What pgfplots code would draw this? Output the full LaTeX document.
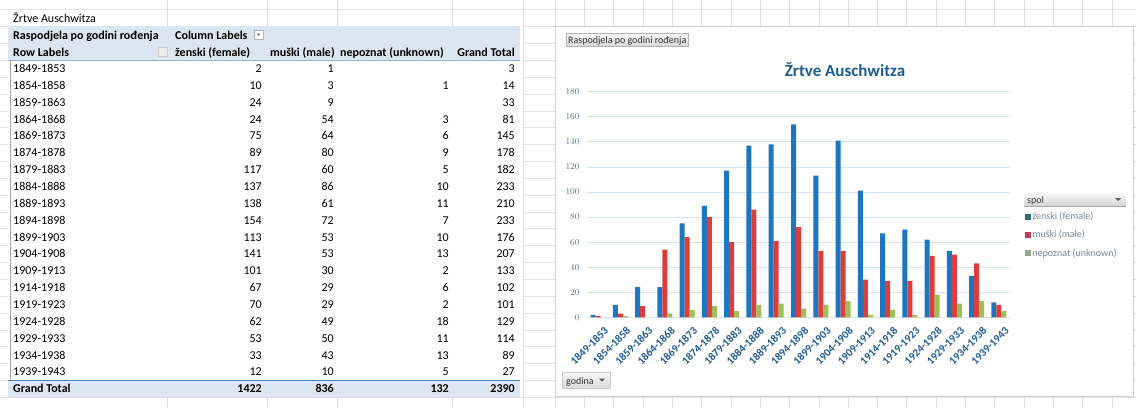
\documentclass[border=0pt]{standalone}
\usepackage{fontspec}
\setmainfont{Carlito}
\usepackage{pgfplots}
\pgfplotsset{compat=1.18}

\definecolor{zblue}{HTML}{1D77C0}
\definecolor{mred}{HTML}{DD3E3A}
\definecolor{ngreen}{HTML}{9CBF58}
\definecolor{sheetgrid}{HTML}{E0E0E0}
\definecolor{hdrfill}{HTML}{DCE6F1}
\definecolor{hdrline}{HTML}{95B3D7}
\definecolor{totline}{HTML}{4F81BD}
\definecolor{gridblue}{HTML}{D5E2F0}
\definecolor{ticktext}{HTML}{56708F}
\definecolor{xlabtext}{HTML}{1F5A96}
\definecolor{titleblue}{HTML}{1F5C94}
\definecolor{legtext}{HTML}{7A8796}
\definecolor{legteal}{HTML}{2D6E7E}
\definecolor{legred}{HTML}{C23E55}
\definecolor{leggreen}{HTML}{8FA98A}

\newcommand\tf{\fontsize{12}{14}\selectfont}

\begin{document}
\begin{tikzpicture}
\useasboundingbox (0,0) rectangle (1136pt,-408pt);

\begin{scope}[x=1pt,y=-1pt]
  \fill[white] (0,0) rectangle (1136,408);
  % sheet grid
  \foreach \j in {0,...,23} \draw[sheetgrid] (0,{9.6+16.85*\j}) -- (1136,{9.6+16.85*\j});
  \foreach \x in {167,267,337,452,523} \draw[sheetgrid] (\x,0) -- (\x,408);
  \foreach \j in {0,...,19} \draw[sheetgrid] ({555+29.3*\j},0) -- ({555+29.3*\j},408);

  % pivot table
  \fill[white] (8,26.45) rectangle (523,397.2);
  \fill[hdrfill] (8,26.45) rectangle (520,60.15);
  \draw[hdrline] (8,60.15) -- (520,60.15);
  \fill[hdrfill] (8,380.3) rectangle (520,397.2);
  \draw[totline, line width=0.8pt] (8,380.3) -- (520,380.3);
  \draw[gray!70] (10,60.15) -- (10,380.3);

  \node[anchor=base west, font=\tf, inner sep=0pt] at (13,22) {Žrtve Auschwitza};
  \node[anchor=base west, font=\tf\bfseries, inner sep=0pt] at (13,39) {Raspodjela po godini rođenja};
  \node[anchor=base west, font=\tf\bfseries, inner sep=0pt] at (175,39) {Column Labels};
  \draw[gray!60, fill=white] (254,30) rectangle (263,39);
  \fill[gray] (256.5,33.5) -- (260.5,33.5) -- (258.5,36) -- cycle;
  \node[anchor=base west, font=\tf\bfseries, inner sep=0pt] at (13,56) {Row Labels};
  \draw[gray!40, fill=gray!15] (158,47) rectangle (167,56);
  \node[anchor=base west, font=\tf\bfseries, inner sep=0pt] at (175,56) {ženski (female)};
  \node[anchor=base west, font=\tf\bfseries, inner sep=0pt] at (270,56) {muški (male)};
  \node[anchor=base west, font=\tf\bfseries, inner sep=0pt] at (340,56) {nepoznat (unknown)};
  \node[anchor=base east, font=\tf\bfseries, inner sep=0pt] at (515,56) {Grand Total};

  \foreach \lab/\f/\m/\u/\t [count=\i from 3] in {
      1849-1853/2/1//3, 1854-1858/10/3/1/14, 1859-1863/24/9//33,
      1864-1868/24/54/3/81, 1869-1873/75/64/6/145, 1874-1878/89/80/9/178,
      1879-1883/117/60/5/182, 1884-1888/137/86/10/233, 1889-1893/138/61/11/210,
      1894-1898/154/72/7/233, 1899-1903/113/53/10/176, 1904-1908/141/53/13/207,
      1909-1913/101/30/2/133, 1914-1918/67/29/6/102, 1919-1923/70/29/2/101,
      1924-1928/62/49/18/129, 1929-1933/53/50/11/114, 1934-1938/33/43/13/89,
      1939-1943/12/10/5/27} {
    \node[anchor=base west, font=\tf, inner sep=0pt] at (13,{22+16.85*\i}) {\lab};
    \node[anchor=base east, font=\tf, inner sep=0pt] at (262,{22+16.85*\i}) {\f};
    \node[anchor=base east, font=\tf, inner sep=0pt] at (334,{22+16.85*\i}) {\m};
    \node[anchor=base east, font=\tf, inner sep=0pt] at (449,{22+16.85*\i}) {\u};
    \node[anchor=base east, font=\tf, inner sep=0pt] at (515,{22+16.85*\i}) {\t};
  }
  \node[anchor=base west, font=\tf\bfseries, inner sep=0pt] at (13,392.7) {Grand Total};
  \node[anchor=base east, font=\tf\bfseries, inner sep=0pt] at (262,392.7) {1422};
  \node[anchor=base east, font=\tf\bfseries, inner sep=0pt] at (334,392.7) {836};
  \node[anchor=base east, font=\tf\bfseries, inner sep=0pt] at (449,392.7) {132};
  \node[anchor=base east, font=\tf\bfseries, inner sep=0pt] at (515,392.7) {2390};

  % chart area
  \draw[gray!35, fill=white] (555,26.45) rectangle (1133,396);
  \node[font=\fontsize{17}{20}\selectfont\bfseries, text=titleblue] at (845,70) {Žrtve Auschwitza};
  \shade[top color=gray!5, bottom color=gray!30, draw=gray!60] (566,33) rectangle (688,46);
  \node[anchor=base west, font=\fontsize{10}{12}\selectfont, inner sep=0pt, text=black!80] at (568,43.3) {Raspodjela po godini rođenja};
  \shade[top color=gray!5, bottom color=gray!30, draw=gray!40] (562,372) rectangle (610,388);
  \node[anchor=base west, font=\fontsize{10}{12}\selectfont, inner sep=0pt, text=black!80] at (566,384) {godina};
  \fill[gray!70!black] (599,378.5) -- (605,378.5) -- (602,381.5) -- cycle;
  \shade[top color=gray!3, bottom color=gray!35] (1024,192) rectangle (1126,206);
  \draw[gray!70] (1024,206) -- (1126,206);
  \node[anchor=base west, font=\fontsize{10}{12}\selectfont, inner sep=0pt, text=black!75] at (1027,203) {spol};
  \fill[gray!70!black] (1115,198) -- (1121,198) -- (1118,201) -- cycle;
\end{scope}

\begin{axis}[
    at={(587pt,-317.3pt)}, anchor=south west,
    scale only axis, width=423pt, height=225.6pt,
    xmin=-0.5, xmax=18.5, ymin=0, ymax=180,
    ytick={0,20,...,180},
    xtick={0,...,18},
    xticklabels={1849-1853,1854-1858,1859-1863,1864-1868,1869-1873,1874-1878,
      1879-1883,1884-1888,1889-1893,1894-1898,1899-1903,1904-1908,1909-1913,
      1914-1918,1919-1923,1924-1928,1929-1933,1934-1938,1939-1943},
    ybar=0pt, bar width=5pt,
    axis line style={draw=none},
    major tick style={draw=none},
    ymajorgrids, major grid style={gridblue, line width=0.8pt},
    yticklabel style={font=\fontsize{9.5}{11}\selectfont, text=ticktext, xshift=-4pt},
    xticklabel style={rotate=45, anchor=east, font=\fontsize{11}{13}\selectfont\bfseries,
      text=xlabtext, xshift=4pt, yshift=-11pt},
    legend style={at={(1.035,0.473)}, anchor=north west, draw=none, fill=none,
      font=\fontsize{10}{12}\selectfont, row sep=6.5pt, inner sep=0pt,
      nodes={inner sep=1.5pt, text=legtext}},
    legend cell align=left,
  ]
  \addplot[fill=zblue, draw=none,
    legend image code/.code={\fill[legteal] (0pt,-3pt) rectangle (6pt,3pt);}] coordinates {
    (0,2) (1,10) (2,24) (3,24) (4,75) (5,89) (6,117) (7,137) (8,138) (9,154)
    (10,113) (11,141) (12,101) (13,67) (14,70) (15,62) (16,53) (17,33) (18,12)};
  \addlegendentry{ženski (female)}
  \addplot[fill=mred, draw=none,
    legend image code/.code={\fill[legred] (0pt,-3pt) rectangle (6pt,3pt);}] coordinates {
    (0,1) (1,3) (2,9) (3,54) (4,64) (5,80) (6,60) (7,86) (8,61) (9,72)
    (10,53) (11,53) (12,30) (13,29) (14,29) (15,49) (16,50) (17,43) (18,10)};
  \addlegendentry{muški (male)}
  \addplot[fill=ngreen, draw=none,
    legend image code/.code={\fill[leggreen] (0pt,-3pt) rectangle (6pt,3pt);}] coordinates {
    (1,1) (3,3) (4,6) (5,9) (6,5) (7,10) (8,11) (9,7)
    (10,10) (11,13) (12,2) (13,6) (14,2) (15,18) (16,11) (17,13) (18,5)};
  \addlegendentry{nepoznat (unknown)}
\end{axis}
\end{tikzpicture}
\end{document}
